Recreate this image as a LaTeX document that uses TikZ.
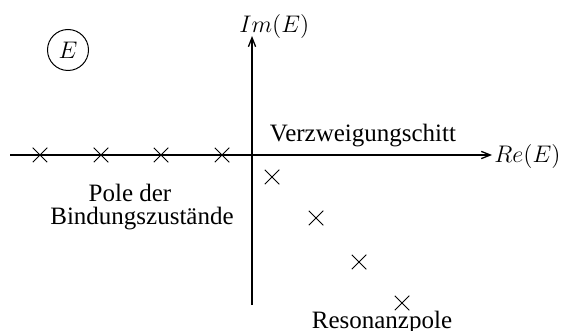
\documentclass[tikz,border=0pt]{standalone}
\usepackage{fontspec}
\setmainfont{Liberation Serif}
\usetikzlibrary{arrows.meta,shapes.misc}
\begin{document}
\begin{tikzpicture}[x=0.5pt,y=-0.5pt,
  font=\fontsize{12.5}{15}\selectfont,
  axis/.style={line width=0.65pt,-{Straight Barb[length=4.5pt,width=3.6pt]}},
  pole/.style={cross out,draw,line width=0.45pt,minimum size=6.8pt,inner sep=0pt},
  lbl/.style={inner sep=0pt},
  mlbl/.style={inner sep=0pt,font=\fontsize{13}{15}\selectfont}]
\useasboundingbox (0,0) rectangle (567,331);
\coordinate (xl) at (10,155);
\coordinate (xr) at (492,155);
\coordinate (yb) at (252,305);
\coordinate (yt) at (252,36);
\draw[axis] (xl) -- (xr);
\draw[axis] (yb) -- (yt);
\node[mlbl,anchor=west] (re) at (494,157) {$Re(E)$};
\node[mlbl,anchor=base west] (im) at (239,33) {$Im(E)$};
\node[circle,draw,line width=0.5pt,minimum size=20.5pt,inner sep=0pt] (plane) at (68,50) {$E$};
\node[pole] (b1) at (40,155) {};
\node[pole] (b2) at (101,155) {};
\node[pole] (b3) at (161,155) {};
\node[pole] (b4) at (222,155) {};
\node[pole] (r1) at (272,177) {};
\node[pole] (r2) at (316,218) {};
\node[pole] (r3) at (359,262) {};
\node[pole] (r4) at (402,303) {};
\node[lbl,anchor=base] (vz) at (363,142) {Verzweigungschitt};
\node[lbl,anchor=base] (pd) at (130,202) {Pole der};
\node[lbl,anchor=base] (bz) at (142,225) {Bindungszustände};
\node[lbl,anchor=base] (rp) at (382,328) {Resonanzpole};
\end{tikzpicture}
\end{document}
